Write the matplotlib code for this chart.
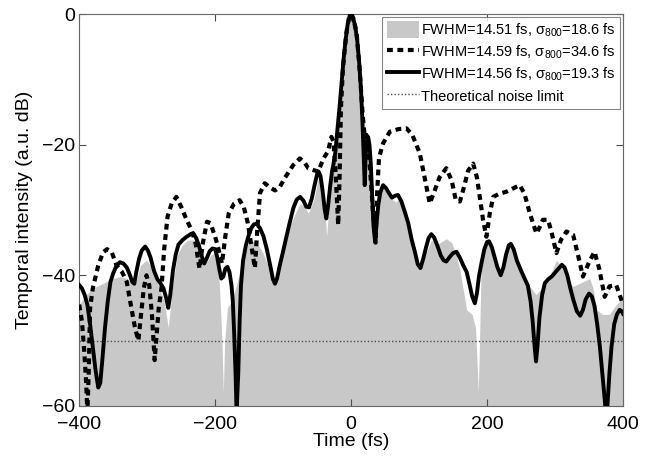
import numpy as np
import matplotlib.pyplot as plt
from matplotlib.patches import Patch
from matplotlib.lines import Line2D

plt.rcParams['font.family'] = ['Liberation Sans', 'DejaVu Sans']
plt.rcParams['mathtext.default'] = 'regular'

# gray filled trace (FWHM=14.51 fs)
gray_t = [-400, -390, -380, -370, -360, -350, -340, -330, -320, -315, -310, -301, -292,
          -282, -275, -269, -263, -256, -249, -240, -232, -222, -215, -207, -200, -194,
          -190, -188, -186, -182, -176, -170, -165, -159, -150, -141, -130, -120, -112,
          -105, -97, -90, -82, -75, -68, -63, -55, -48, -42, -38, -36, -33, -30, -26,
          -21.5, -16.6, -12, -7, -3, 0, 3, 8, 12.8, 16.7, 19, 20, 22.5, 25, 28, 32, 35,
          39, 47, 55, 62, 66, 70, 79, 88, 96, 102, 110, 118, 128, 140, 148, 155, 160,
          170, 178, 183, 186, 187, 188.5, 191, 194, 201.5, 211, 220, 228, 233, 245,
          255, 263, 272, 280, 292, 302, 312, 320, 326.5, 341, 351, 356, 361, 370, 380,
          390, 400]
gray_db = [-44.5, -43, -42, -41.5, -41, -40.5, -40.2, -40.5, -41.5, -40.5, -38.5, -37.7,
           -39, -42, -44, -48, -42, -37, -35.5, -34.6, -34.6, -35.2, -38.5, -37, -36.5,
           -41, -50, -58, -50, -45, -44, -42, -40, -36.5, -35, -34.6, -36.5, -39, -41.5,
           -39, -35, -32.5, -30.5, -29, -29.5, -30.5, -28.5, -25, -28, -31, -34, -30,
           -26.5, -23.5, -19.5, -14.2, -7.8, -2.8, -0.4, 0, -0.6, -2.8, -8.8, -16.5, -22,
           -27, -20.5, -19.3, -22, -32, -35, -29.5, -26.5, -27.5, -28.5, -28.8, -28.2,
           -30.8, -34.8, -37.2, -39.2, -36.6, -34.6, -35.2, -34.4, -35, -37, -39.2, -45.3,
           -46, -48, -55, -58, -52, -40, -36, -34.3, -37.5, -40.3, -36, -34.6, -37.5, -40,
           -41.7, -43, -42, -40.2, -37.7, -39, -41, -41.7, -41, -40.5, -42, -45.3, -46,
           -46, -44.5, -43.5]

# dashed trace (FWHM=14.59 fs)
dash_t = [-400, -396, -393, -390, -388, -386, -384, -380, -372, -365, -359, -352, -345,
          -337, -330, -325, -318, -313, -309, -305, -301, -297, -293, -289, -286, -283,
          -279, -275, -270, -264, -257, -250, -242, -235, -229, -223, -218, -212, -207,
          -200, -195, -190, -185, -180, -172, -164, -158, -152, -146, -141.6, -138, -134,
          -127, -120, -112, -105, -97, -85, -75.4, -68, -63, -55, -48.5, -40, -34, -29,
          -26, -23, -21, -19, -17, -15, -12, -7, -3, 0, 3, 8, 12.8, 16.7, 20, 22.6, 25,
          28, 32, 36, 38, 41, 47, 57, 70, 81.5, 90, 101, 108, 115.7, 123, 130, 140, 148,
          154, 160, 166, 172, 179.5, 185, 190, 194, 199, 204, 209, 218, 228.5, 238, 248,
          255, 262.8, 272.6, 278, 282, 289.7, 295, 302, 309, 316.8, 326.5, 334, 341, 350,
          358, 365, 373, 380, 390, 397.6, 400]
dash_db = [-44.5, -47, -51, -56, -61, -55, -45, -42, -38.5, -36.5, -36, -36.5, -38.5,
           -39.5, -41, -44, -48, -50, -46, -42, -40, -41.5, -46, -53, -49, -45, -42, -36,
           -31, -29, -28, -29.5, -31.5, -33, -35, -39, -35, -31.8, -32, -34.1, -36, -38.2,
           -34, -30.5, -29, -28.5, -29.5, -32, -36, -38.9, -33, -27.4, -25.9, -26.5, -27,
           -26.5, -25, -23.1, -22.1, -22.8, -23.6, -23.9, -24.1, -22, -21, -18.8, -19.5,
           -24, -28, -32.3, -25, -14.5, -8.2, -2.9, -0.4, 0, -0.6, -2.8, -8.8, -15, -18.8,
           -18.5, -20, -24, -30, -35, -28, -22, -19.8, -18, -17.6, -17.5, -18.5, -21.3,
           -25, -29, -27, -25, -23.6, -25.5, -28.5, -28.7, -26.5, -24, -22.9, -25, -28.5,
           -31.5, -34.1, -30.5, -28, -27.5, -27.2, -26.7, -26.2, -27.5, -30.5, -33.6,
           -32.5, -31.5, -31.5, -33.5, -36.6, -34.5, -33.3, -33.8, -37, -40.2, -38, -36.4,
           -39, -43.3, -41.7, -41.5, -43.8, -44.5]

# solid trace (FWHM=14.56 fs)
solid_t = [-400, -396, -392, -388, -384, -380, -376, -372, -369, -366, -362, -358, -354,
           -350, -345, -340, -335, -330, -326, -322, -319, -316, -312, -308, -303, -299,
           -295, -290, -285, -280, -276, -272, -269, -266, -262, -258, -254, -248, -242,
           -236, -232, -228, -224, -220, -216, -212, -208, -204, -200, -197, -194, -191,
           -188, -185, -182, -179, -176, -174, -172, -170, -168.5, -166, -164, -162, -159,
           -155, -151, -147, -143, -139, -134, -129, -124, -119, -115, -112, -109, -105,
           -100, -95, -90, -85, -80, -75, -70, -66, -62, -58, -54, -50, -48, -45, -42, -39,
           -36.5, -34, -31, -28, -26, -23, -20, -17, -14, -11, -8, -5, -2, 0.5, 3, 6, 9,
           12, 14.5, 16.7, 18.5, 20, 21.5, 23, 25, 27, 29, 31, 33, 35.3, 37.5, 40, 43, 47,
           51, 55, 60, 65, 69, 74, 79, 84, 89, 94, 98, 102, 106, 110, 114, 118, 122, 127,
           132, 136, 140, 145, 150, 155, 160, 165, 170, 174, 178, 182, 185, 188, 192, 196,
           200, 203, 207, 211, 215, 220, 224, 228, 232, 235, 239, 244, 250, 256, 260, 264,
           267, 270, 272, 274, 277, 281, 285, 290, 295, 300, 305, 310, 314, 318, 322, 327,
           332, 337, 341, 345, 350, 354, 358, 362, 366, 370, 373, 375, 377, 380, 383, 387,
           391, 395, 398, 400]
solid_db = [-41.5, -42, -43, -44.5, -47.5, -51, -54.5, -57.2, -56.5, -53, -48, -44, -41,
            -39.7, -38.5, -38, -38.2, -38.8, -39.8, -41, -41.3, -39.5, -37.5, -36.2, -35.6,
            -36.2, -37.3, -39.3, -40.6, -41.3, -42, -43.5, -45, -43, -39.2, -36.8, -35.3,
            -34.6, -34.1, -33.7, -33.6, -34.3, -35.4, -37, -38.2, -37.3, -36.3, -35.9, -36,
            -37.2, -39, -40.5, -40.2, -39, -38.7, -39.5, -41.5, -44, -49, -55, -61, -55, -47,
            -41.5, -37.8, -35.5, -34, -32.8, -32.2, -32.1, -32.8, -34, -36, -38.5, -40.6,
            -41.3, -40.5, -38.5, -36.3, -34, -31.8, -29.7, -28.4, -28, -28.6, -29.5, -29.6,
            -28.3, -26.3, -24.5, -24.1, -24.8, -27, -29.8, -31.3, -29.5, -26.5, -24, -23,
            -21, -17.5, -14.2, -10.5, -6.8, -3.8, -1.5, -0.2, 0, -0.6, -1.8, -4, -7.6, -11.5,
            -16.5, -22, -26.2, -21.5, -19.5, -18.8, -20, -23, -28, -32.5, -34.9, -32, -29.2,
            -27.3, -26.2, -26.6, -27.3, -28.1, -27.8, -27.7, -28.7, -30.3, -32, -34.5, -36.5,
            -38.3, -38.9, -37.5, -35.8, -34.3, -33.7, -34.2, -35.5, -37, -37.7, -37.9, -37.2,
            -36.6, -36.4, -37.3, -38.5, -39.5, -41.3, -43.2, -44.3, -42.8, -40.2, -38, -36,
            -34.9, -34.8, -35.7, -37.2, -38.7, -40, -38.8, -36.8, -35.4, -35.2, -36, -37.8,
            -39.3, -40.7, -41.6, -44, -47, -51, -53.2, -51, -46.5, -43, -41.2, -40.6, -40.2,
            -39.6, -39, -38.4, -38.8, -40, -41.8, -43.8, -45.5, -46.2, -45.3, -43.7, -42.8,
            -43.2, -44.7, -47.5, -51, -55.5, -59, -61.5, -60, -55, -51, -47.5, -46, -45.3,
            -45.5, -45.9]

noise_limit = -50

labels = ['FWHM=14.51 fs, σ$_{800}$=18.6 fs',
          'FWHM=14.59 fs, σ$_{800}$=34.6 fs',
          'FWHM=14.56 fs, σ$_{800}$=19.3 fs',
          'Theoretical noise limit']

fig = plt.figure(figsize=(6.6, 4.57), dpi=100)
ax = fig.add_axes([0.120, 0.112, 0.824, 0.857])

gray_col = '#c8c8c8'
ax.fill_between(gray_t, gray_db, -70, color=gray_col, linewidth=0, zorder=1)
ax.axhline(noise_limit, color='0.3', linestyle=(0, (1, 1.5)), linewidth=1.0, zorder=2)
ax.plot(dash_t, dash_db, color='black', linestyle=(0, (1.4, 1.1)), linewidth=3.0, zorder=3)
ax.plot(solid_t, solid_db, color='black', linestyle='-', linewidth=2.8,
        solid_joinstyle='round', zorder=4)

ax.set_xlim(-400, 400)
ax.set_ylim(-60, 0)
ax.set_xticks([-400, -200, 0, 200, 400])
ax.set_yticks([-60, -40, -20, 0])
ax.tick_params(direction='in', length=5, width=0.8, top=True, right=True,
               labelsize=14, pad=3, color='0.3')
ax.tick_params(axis='x', pad=7)
for s in ax.spines.values():
    s.set_color('0.4')
    s.set_linewidth(0.8)

ax.set_xlabel('Time (fs)', fontsize=14, labelpad=0)
ax.set_ylabel('Temporal intensity (a.u. dB)', fontsize=14, labelpad=6)

handles = [Patch(facecolor=gray_col, edgecolor='none'),
           Line2D([], [], color='black', linestyle=(0, (1.4, 1.1)), linewidth=3.0),
           Line2D([], [], color='black', linestyle='-', linewidth=2.8),
           Line2D([], [], color='0.3', linestyle=(0, (1, 1.5)), linewidth=1.0)]
leg = ax.legend(handles, labels, loc='upper right', fontsize=10.5, frameon=True,
                fancybox=False, edgecolor='0.4', handlelength=2.2, handletextpad=0.15,
                labelspacing=0.3, borderpad=0.3, borderaxespad=0.2,
                handleheight=1.4)
leg.get_frame().set_linewidth(0.8)

fig.savefig('out.png', dpi=100)
